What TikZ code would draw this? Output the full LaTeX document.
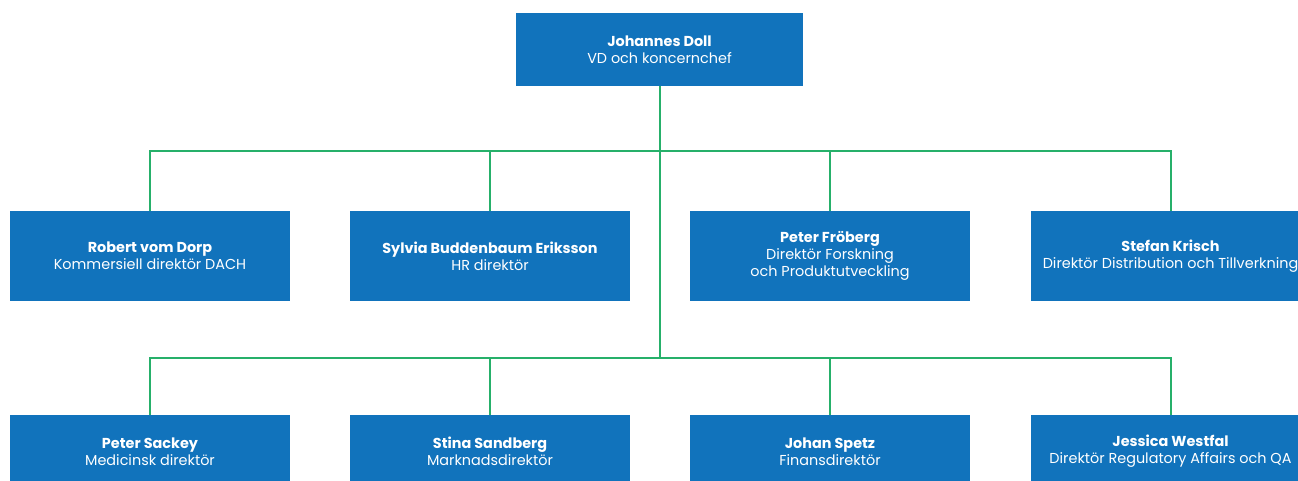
\documentclass[tikz,border=0pt]{standalone}
\usepackage{fontspec}
\setmainfont{Poppins}
\definecolor{orgblue}{RGB}{17,115,188}
\definecolor{orggreen}{RGB}{38,176,106}

\begin{document}
\begin{tikzpicture}[x=0.75pt,y=0.75pt,yscale=-1,xscale=1,
  person/.style={fill=orgblue,text=white,align=center,inner sep=0pt,
    minimum width=210pt,minimum height=67.5pt,
    font=\fontsize{10.8}{12.75}\selectfont},
  lowperson/.style={person,minimum height=54.75pt},
  link/.style={draw=orggreen,line width=1.5pt}]
\useasboundingbox (0,0) rectangle (1298,481);
\clip (0,0) rectangle (1298,481);

% Text Node
\node [person,minimum width=215.25pt,minimum height=54.75pt] (ceo) at (659.5,49.5) {\textbf{Johannes Doll}\\VD och koncernchef};

% Text Node
\node [person] (d1) at (150,256) {\textbf{Robert vom Dorp}\\Kommersiell direktör DACH};
% Text Node
\node [person] (d2) at (490,256) {\textbf{Sylvia Buddenbaum Eriksson}\\HR direktör};
% Text Node
\node [person] (d3) at (830,256) {\textbf{Peter Fröberg}\\Direktör Forskning\\och Produktutveckling};
% Text Node
\node [person] (d4) at (1170.5,256) {\textbf{Stefan Krisch}\\Direktör Distribution och Tillverkning};

% Text Node
\node [lowperson] (e1) at (150,451.5) {\textbf{Peter Sackey}\\Medicinsk direktör};
% Text Node
\node [lowperson] (e2) at (490,451.5) {\textbf{Stina Sandberg}\\Marknadsdirektör};
% Text Node
\node [lowperson] (e3) at (830,451.5) {\textbf{Johan Spetz}\\Finansdirektör};
% Text Node
\node [lowperson] (e4) at (1170.5,451.5) {\textbf{Jessica Westfal}\\Direktör Regulatory Affairs och QA};

\coordinate (tbus) at (0,151);
\coordinate (bbus) at (0,358.3);

% Connection
\draw [link] (ceo.south) -- (ceo.south |- bbus);
% Connection
\draw [link] (d1.north) -- (d1.north |- tbus) -- (d4.north |- tbus) -- (d4.north);
\foreach \n in {d2,d3}
  \draw [link] (\n.north) -- (\n.north |- tbus);
% Connection
\draw [link] (e1.north) -- (e1.north |- bbus) -- (e4.north |- bbus) -- (e4.north);
\foreach \n in {e2,e3}
  \draw [link] (\n.north) -- (\n.north |- bbus);

\end{tikzpicture}
\end{document}
